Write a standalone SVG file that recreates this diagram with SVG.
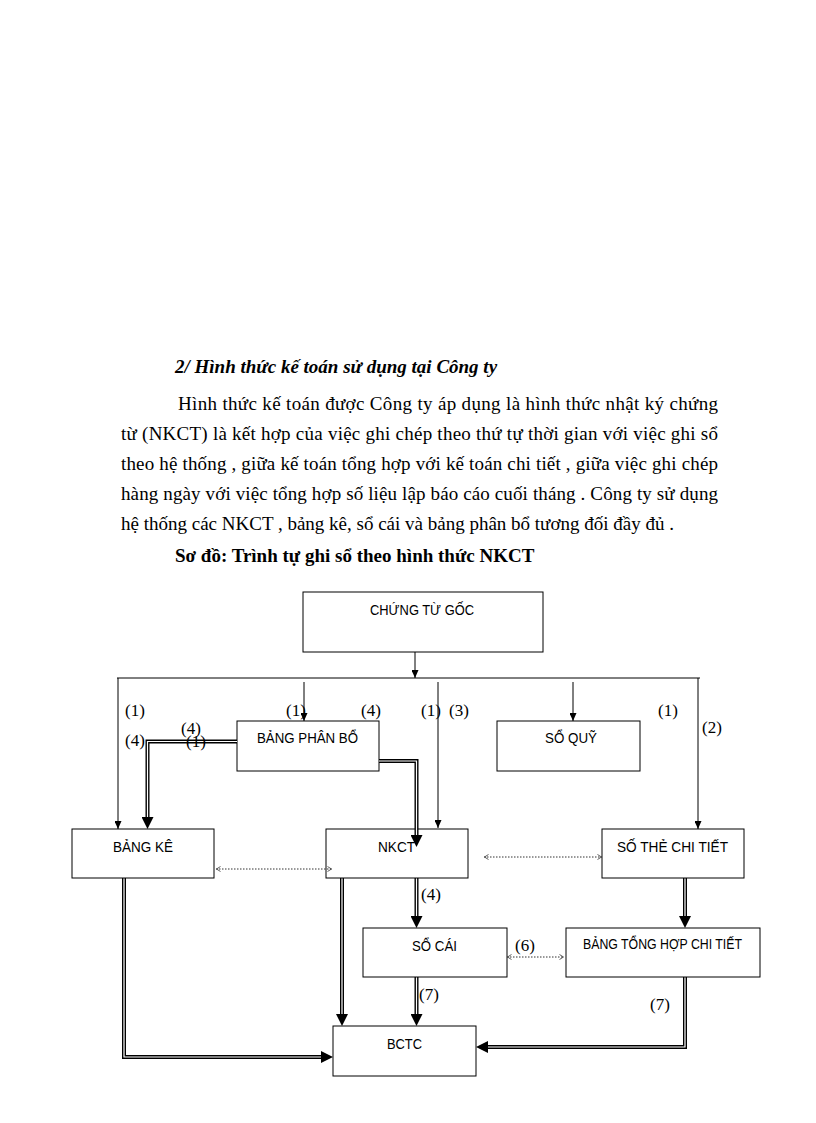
<svg xmlns="http://www.w3.org/2000/svg" width="816" height="1123" viewBox="0 0 816 1123">
<style>
.body{font-family:"Liberation Serif","Times New Roman",serif;font-size:19px;fill:#000}
.hd{font-weight:bold;font-style:italic}
.cap{font-weight:bold}
.box{fill:#fff;stroke:#000;stroke-width:1}
.nt{font-family:"Liberation Sans",Arial,sans-serif;font-size:14.5px;fill:#000}
.lb{font-family:"Liberation Serif","Times New Roman",serif;font-size:17px;fill:#000}
.thin{fill:none;stroke:#000;stroke-width:1}
.dk{fill:none;stroke:#000;stroke-width:4}
.wh{fill:none;stroke:#fff;stroke-width:1.2}
.dot{fill:none;stroke:#333;stroke-width:1;stroke-dasharray:1.5 1.5}
</style>
<defs>
<marker id="ah" markerUnits="userSpaceOnUse" markerWidth="8" markerHeight="7" viewBox="0 0 8 7" refX="8" refY="3.5" orient="auto"><path d="M0,0 L8,3.5 L0,7 z" fill="#000"/></marker>
<marker id="big" markerUnits="userSpaceOnUse" markerWidth="12" markerHeight="12" viewBox="0 0 12 12" refX="4" refY="6" orient="auto"><path d="M0,0 L12,6 L0,12 z" fill="#000"/></marker>
<marker id="op" markerUnits="userSpaceOnUse" markerWidth="5" markerHeight="6" viewBox="0 0 5 6" refX="5" refY="3" orient="auto-start-reverse"><path d="M0.5,0.5 L4.5,3 L0.5,5.5" fill="none" stroke="#333" stroke-width="0.8"/></marker>
</defs>

<g id="text">
<text class="body hd" x="175" y="373">2/ Hình thức kế toán sử dụng tại Công ty</text>
<text class="body" x="178" y="410" textLength="540" lengthAdjust="spacing">Hình thức kế toán được Công ty áp dụng là hình thức nhật ký chứng</text>
<text class="body" x="121" y="440" textLength="597" lengthAdjust="spacing">từ (NKCT) là kết hợp của việc ghi chép theo thứ tự thời gian với việc ghi sổ</text>
<text class="body" x="121" y="470" textLength="597" lengthAdjust="spacing">theo hệ thống , giữa kế toán tổng hợp với kế toán chi tiết , giữa việc ghi chép</text>
<text class="body" x="121" y="500" textLength="597" lengthAdjust="spacing">hàng ngày với việc tổng hợp số liệu lập báo cáo cuối tháng . Công ty sử dụng</text>
<text class="body" x="121" y="530">hệ thống các NKCT , bảng kê, sổ cái và bảng phân bổ tương đối đầy đủ .</text>
<text class="body cap" x="175" y="562">Sơ đồ: Trình tự ghi sổ theo hình thức NKCT</text>
</g>

<g id="chung-tu-goc"><rect class="box" x="303" y="592" width="240" height="60"/><text class="nt" x="370" y="615" textLength="104" lengthAdjust="spacingAndGlyphs">CHỨNG TỪ GỐC</text></g>
<g id="bang-phan-bo"><rect class="box" x="237" y="721" width="142" height="50"/><text class="nt" x="257" y="743" textLength="101" lengthAdjust="spacingAndGlyphs">BẢNG PHÂN BỔ</text></g>
<g id="so-quy"><rect class="box" x="497" y="721" width="143" height="50"/><text class="nt" x="545" y="743" textLength="52" lengthAdjust="spacingAndGlyphs">SỔ QUỸ</text></g>
<g id="bang-ke"><rect class="box" x="72" y="829" width="142" height="49"/><text class="nt" x="113" y="852" textLength="60" lengthAdjust="spacingAndGlyphs">BẢNG KÊ</text></g>
<g id="nkct"><rect class="box" x="326" y="829" width="142" height="49"/><text class="nt" x="378" y="852" textLength="37" lengthAdjust="spacingAndGlyphs">NKCT</text></g>
<g id="so-the-chi-tiet"><rect class="box" x="602" y="829" width="142" height="49"/><text class="nt" x="617" y="852" textLength="111" lengthAdjust="spacingAndGlyphs">SỐ THẺ CHI TIẾT</text></g>
<g id="so-cai"><rect class="box" x="363" y="928" width="144" height="49"/><text class="nt" x="412" y="951" textLength="45" lengthAdjust="spacingAndGlyphs">SỔ CÁI</text></g>
<g id="bang-tong-hop-chi-tiet"><rect class="box" x="566" y="928" width="194" height="49"/><text class="nt" x="583" y="949" textLength="159" lengthAdjust="spacingAndGlyphs">BẢNG TỔNG HỢP CHI TIẾT</text></g>
<g id="bctc"><rect class="box" x="333" y="1026" width="143" height="50"/><text class="nt" x="387" y="1049" textLength="35" lengthAdjust="spacingAndGlyphs">BCTC</text></g>

<g id="connectors">
<path class="thin" d="M415,652 V678" marker-end="url(#ah)"/>
<path class="thin" d="M117,678 H700"/>
<path class="thin" d="M118,678 V829" marker-end="url(#ah)"/>
<path class="thin" d="M304,682 V721" marker-end="url(#ah)"/>
<path class="thin" d="M438,682 V828" marker-end="url(#ah)"/>
<path class="thin" d="M573,682 V721" marker-end="url(#ah)"/>
<path class="thin" d="M698,678 V829" marker-end="url(#ah)"/>

<path class="dk" d="M237,741.5 H147.5 V821" marker-end="url(#big)"/>
<path class="wh" d="M237,741.5 H147.5 V817"/>
<path class="dk" d="M379,761 H416.5 V839" marker-end="url(#big)"/>
<path class="wh" d="M379,761 H416.5 V835"/>
<path class="dk" d="M416.5,878 V920" marker-end="url(#big)"/>
<path class="wh" d="M416.5,878.5 V916"/>
<path class="dk" d="M416.5,977 V1018" marker-end="url(#big)"/>
<path class="wh" d="M416.5,977.5 V1014"/>
<path class="dk" d="M342,878 V1018" marker-end="url(#big)"/>
<path class="wh" d="M342,878.5 V1014"/>
<path class="dk" d="M124,878 V1057 H325" marker-end="url(#big)"/>
<path class="wh" d="M124,878.5 V1057 H321"/>
<path class="dk" d="M685,878 V920" marker-end="url(#big)"/>
<path class="wh" d="M685,878.5 V916"/>
<path class="dk" d="M685,977 V1047 H484" marker-end="url(#big)"/>
<path class="wh" d="M685,977.5 V1047 H488"/>

<path class="dot" d="M216,869 H332" marker-start="url(#op)" marker-end="url(#op)"/>
<path class="dot" d="M484,857 H602" marker-start="url(#op)" marker-end="url(#op)"/>
<path class="dot" d="M507,957 H564" marker-start="url(#op)" marker-end="url(#op)"/>
</g>

<g id="labels">
<text class="lb" x="125" y="716">(1)</text>
<text class="lb" x="286" y="716">(1)</text>
<text class="lb" x="361" y="716">(4)</text>
<text class="lb" x="421" y="716">(1)</text>
<text class="lb" x="449" y="716">(3)</text>
<text class="lb" x="658" y="716">(1)</text>
<text class="lb" x="702" y="733">(2)</text>
<text class="lb" x="125" y="746">(4)</text>
<text class="lb" x="181" y="734">(4)</text>
<text class="lb" x="186" y="747">(1)</text>
<text class="lb" x="421" y="900">(4)</text>
<text class="lb" x="515" y="951">(6)</text>
<text class="lb" x="419" y="1000">(7)</text>
<text class="lb" x="650" y="1010">(7)</text>
</g>
</svg>
